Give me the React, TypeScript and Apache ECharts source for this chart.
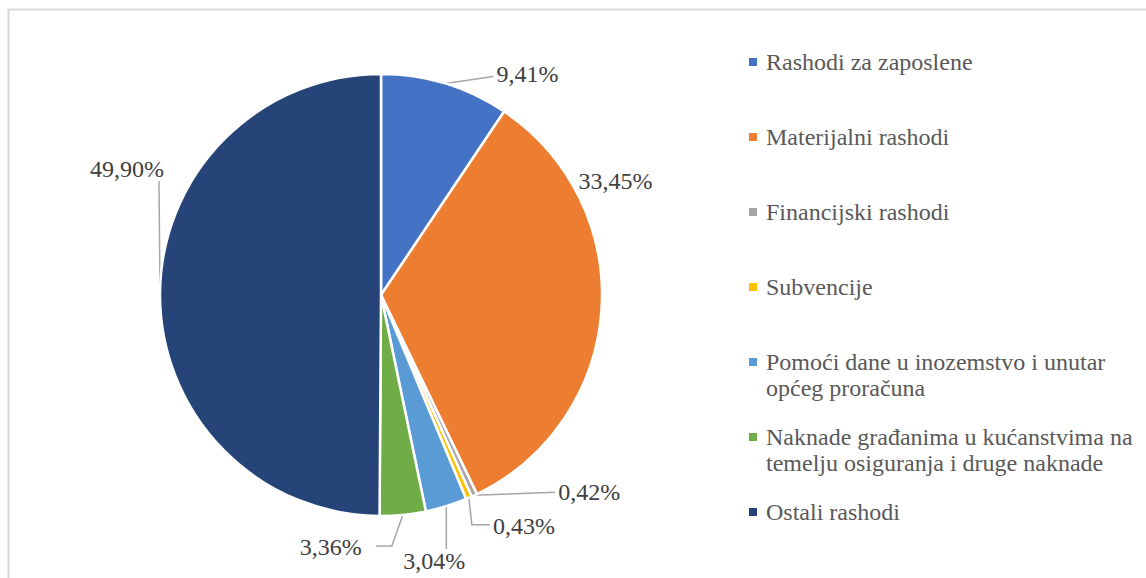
import React, { useEffect, useRef } from "react";
import * as echarts from "echarts";

const categories = [
  "Rashodi za zaposlene",
  "Materijalni rashodi",
  "Financijski rashodi",
  "Subvencije",
  "Pomoći dane u inozemstvo i unutar općeg proračuna",
  "Naknade građanima u kućanstvima na temelju osiguranja i druge naknade",
  "Ostali rashodi",
];
const legendLabels = [
  "Rashodi za zaposlene",
  "Materijalni rashodi",
  "Financijski rashodi",
  "Subvencije",
  "Pomoći dane u inozemstvo i unutar\nopćeg proračuna",
  "Naknade građanima u kućanstvima na\ntemelju osiguranja i druge naknade",
  "Ostali rashodi",
];
const shares = [9.41, 33.45, 0.42, 0.43, 3.04, 3.36, 49.9];
const colors = ["#4472C4", "#ED7D31", "#A5A5A5", "#FFC000", "#5B9BD5", "#70AD47", "#264478"];

// label placement relative to the slice's outer anchor point (layout only)
const labelOffsets: number[][] = [
  [82, -10],
  [14, -130],
  [115, -3],
  [55, 28],
  [-12, 55],
  [-72, 32],
  [-33, -125],
];
const leaderBends: number[][][] = [
  [[48, -7]],
  [],
  [[81, -3]],
  [[3, 27], [21, 27]],
  [[0, 43]],
  [[-11, 31], [-27, 31]],
  [[-1, -113]],
];

const FONT = "Liberation Serif";

export default function App() {
  const ref = useRef<HTMLDivElement>(null);
  useEffect(() => {
    if (!ref.current) return;
    const chart = echarts.init(ref.current, null, { renderer: "svg" });
    const legends = categories.map((c, i) => {
      const multi = legendLabels[i].indexOf("\n") >= 0;
      return {
        data: [c],
        orient: "vertical",
        left: 749,
        top: 49 + i * 75,
        icon: multi ? "path://M0 0h8v8h-8z M0 34h8" : "rect",
        itemWidth: 8,
        itemHeight: multi ? 34 : 8,
        padding: 0,
        selectedMode: false,
        itemStyle: { borderWidth: 0 },
        formatter: (name: string) => legendLabels[categories.indexOf(name)],
        textStyle: {
          fontFamily: FONT,
          fontSize: 24,
          lineHeight: 26,
          color: "#595959",
          padding: [0, 0, 0, 4],
        },
      };
    });
    chart.setOption({
      animation: false,
      color: colors,
      graphic: [
        {
          type: "rect",
          shape: { x: 8.5, y: 9.5, width: 1160, height: 620 },
          style: { fill: "none", stroke: "#d9d9d9", lineWidth: 2 },
          silent: true,
        },
      ],
      legend: legends,
      series: [
        {
          type: "pie",
          center: [381, 295],
          radius: 221,
          startAngle: 90,
          clockwise: true,
          avoidLabelOverlap: false,
          itemStyle: { borderColor: "#ffffff", borderWidth: 2.5 },
          label: {
            show: true,
            position: "outside",
            fontFamily: FONT,
            fontSize: 24,
            color: "#404040",
            formatter: (p: any) => p.value.toFixed(2).replace(".", ",") + "%",
          },
          labelLine: {
            show: true,
            length: 12,
            length2: 18,
            lineStyle: { color: "#a6a6a6", width: 1.5 },
          },
          labelLayout: (params: any) => {
            const i = params.dataIndex;
            const a = params.labelLinePoints[0];
            const off = labelOffsets[i];
            const bends = leaderBends[i];
            const pts = [a, ...bends.map((b) => [a[0] + b[0], a[1] + b[1]])];
            while (pts.length < 3) pts.push(pts[pts.length - 1]);
            return {
              x: a[0] + off[0],
              y: a[1] + off[1],
              align: "center",
              verticalAlign: "middle",
              labelLinePoints: pts,
            };
          },
          data: categories.map((c, i) => ({ name: c, value: shares[i] })),
        },
      ],
    });
    return () => chart.dispose();
  }, []);
  return (
    <div
      ref={ref}
      style={{ position: "absolute", left: 0, top: 0, width: 1146, height: 578 }}
    />
  );
}
